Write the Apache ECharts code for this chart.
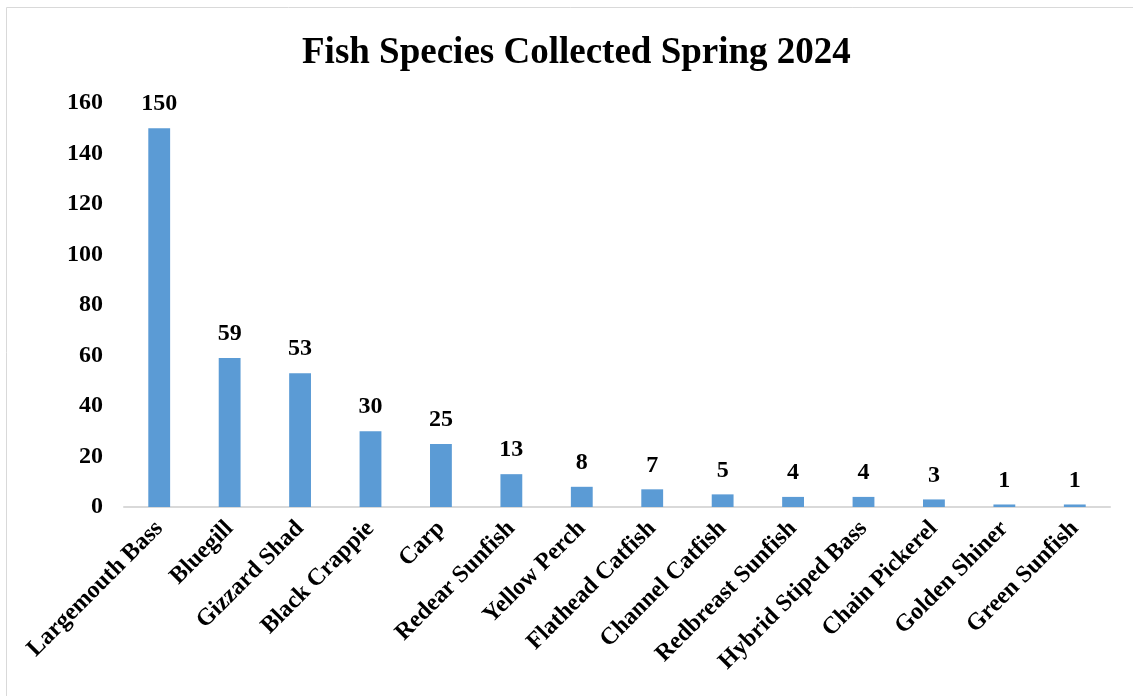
<!DOCTYPE html>
<html><head><meta charset="utf-8">
<script src="https://cdn.jsdelivr.net/npm/echarts@6/dist/echarts.min.js"></script>
<style>html,body{margin:0;padding:0;background:#fff}#c{width:1133px;height:696px}</style>
</head><body><div id="c"></div>
<script>
const categories = ["Largemouth Bass","Bluegill","Gizzard Shad","Black Crappie","Carp","Redear Sunfish","Yellow Perch","Flathead Catfish","Channel Catfish","Redbreast Sunfish","Hybrid Stiped Bass","Chain Pickerel","Golden Shiner","Green Sunfish"];
const counts = [150,59,53,30,25,13,8,7,5,4,4,3,1,1];
const yTicks = {min:0, max:160, interval:20};
const font = "'Liberation Serif','Times New Roman',serif";
const chart = echarts.init(document.getElementById('c'));
chart.setOption({
  animation:false,
  graphic:[{type:'rect',shape:{x:6.5,y:7.5,width:1140,height:700},style:{fill:null,stroke:'#d9d9d9',lineWidth:1}}],
  title:{text:'Fish Species Collected Spring 2024',left:297,top:30,textStyle:{fontFamily:font,fontSize:37,fontWeight:'bold',color:'#000'}},
  grid:{left:124,right:23,top:103,bottom:189,containLabel:false},
  xAxis:{type:'category',data:categories,axisLine:{lineStyle:{color:'#d9d9d9',width:2}},axisTick:{show:false},
    axisLabel:{interval:0,rotate:45,fontFamily:font,fontSize:24,fontWeight:'bold',color:'#000',margin:18}},
  yAxis:{type:'value',min:yTicks.min,max:yTicks.max,interval:yTicks.interval,splitLine:{show:false},axisLine:{show:false},axisTick:{show:false},
    axisLabel:{fontFamily:font,fontSize:24,fontWeight:'bold',color:'#000',margin:21}},
  series:[{type:'bar',data:counts,barWidth:'31%',itemStyle:{color:'#5b9bd5'},
    label:{show:true,position:'top',distance:12,fontFamily:font,fontSize:24,fontWeight:'bold',color:'#000'}}]
});
</script></body></html>
